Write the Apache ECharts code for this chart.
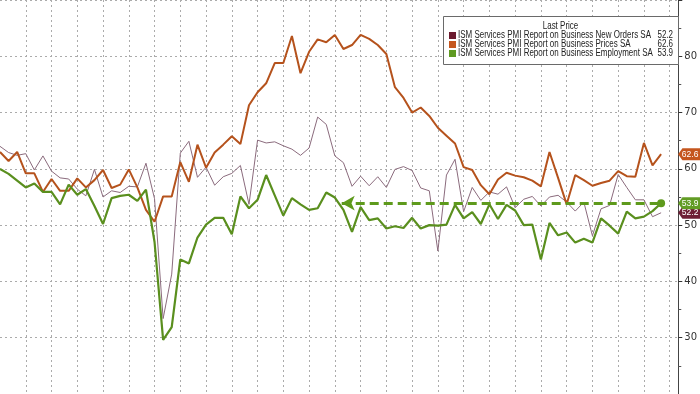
<!DOCTYPE html>
<html>
<head>
<meta charset="utf-8">
<script src="https://cdn.jsdelivr.net/npm/echarts@6/dist/echarts.min.js"></script>
<style>
html,body{margin:0;padding:0;background:#fff;}
#chart{width:700px;height:394px;}
</style>
</head>
<body>
<div id="chart"></div>
<script>
// Months: Sep 2018 ... Feb 2025 (monthly)
const months = ["2018-09","2018-10","2018-11","2018-12",
"2019-01","2019-02","2019-03","2019-04","2019-05","2019-06","2019-07","2019-08","2019-09","2019-10","2019-11","2019-12",
"2020-01","2020-02","2020-03","2020-04","2020-05","2020-06","2020-07","2020-08","2020-09","2020-10","2020-11","2020-12",
"2021-01","2021-02","2021-03","2021-04","2021-05","2021-06","2021-07","2021-08","2021-09","2021-10","2021-11","2021-12",
"2022-01","2022-02","2022-03","2022-04","2022-05","2022-06","2022-07","2022-08","2022-09","2022-10","2022-11","2022-12",
"2023-01","2023-02","2023-03","2023-04","2023-05","2023-06","2023-07","2023-08","2023-09","2023-10","2023-11","2023-12",
"2024-01","2024-02","2024-03","2024-04","2024-05","2024-06","2024-07","2024-08","2024-09","2024-10","2024-11","2024-12",
"2025-01","2025-02"];

const newOrders = [64.0,62.9,62.4,62.7,
59.8,62.3,59.6,58.4,58.2,56.4,55.2,59.9,55.0,56.1,55.8,56.9,
56.8,61.0,54.7,33.4,41.3,62.8,64.9,58.5,60.3,57.1,58.6,59.2,
60.6,53.7,65.1,64.6,64.8,64.1,63.5,62.4,63.7,69.2,67.9,62.3,
61.1,56.9,58.7,57.0,58.6,56.7,59.9,60.4,59.7,56.6,56.1,45.4,
58.9,61.7,52.4,56.7,54.4,55.9,55.5,56.8,53.1,54.6,55.1,53.4,
55.0,55.3,54.1,52.5,54.1,48.1,52.9,53.5,59.0,56.7,54.5,54.5,
51.5,52.2];

const prices = [63.0,61.4,63.0,59.2,
59.2,55.9,58.2,56.1,56.1,58.3,56.7,58.0,59.8,56.6,57.2,59.9,
56.7,52.7,50.6,55.1,55.1,61.2,57.7,64.3,60.2,62.9,64.3,65.8,
64.4,71.3,73.6,75.2,78.8,78.8,83.6,77.0,80.8,83.0,82.5,83.8,
81.3,82.0,83.8,83.1,82.0,80.4,74.5,72.6,70.0,70.9,69.4,67.3,
65.9,64.5,60.3,59.8,57.1,55.5,58.1,59.3,58.8,58.5,57.9,56.9,
63.0,58.4,53.7,58.9,58.0,57.0,57.5,57.9,59.6,58.7,58.6,64.6,
60.6,62.6];

const employment = [60.0,59.1,57.9,56.7,
57.4,55.9,55.9,53.7,57.2,55.4,56.4,53.4,50.2,54.8,55.2,55.4,
54.3,56.3,47.0,29.6,31.9,43.9,43.2,47.8,50.1,51.3,51.3,48.4,
55.1,53.0,54.5,58.9,55.3,51.7,54.8,53.7,52.7,53.0,55.8,54.9,
52.7,48.8,53.2,50.9,51.2,49.4,49.8,49.5,51.3,49.4,50.0,49.9,
50.1,53.6,51.2,52.3,50.2,53.7,51.1,53.6,52.6,50.0,50.1,43.9,
50.4,48.2,48.7,46.9,47.6,46.9,51.2,49.9,48.5,52.4,51.2,51.5,
52.5,53.9];

const seriesNames = [
  "ISM Services PMI Report on Business New Orders SA",
  "ISM Services PMI Report on Business Prices SA",
  "ISM Services PMI Report on Business Employment SA"
];
const legendTitle = "Last Price";
const yTicks = [30,40,50,60,70,80];
const arrowStartIndex = 39.8; // where the dashed arrow begins (month index)

const lineColors = ["#8b6b7d","#b5521c","#5a8f1e"];
const swatchColors = ["#6b1a2e","#c5561e","#5f9a22"];
const tagColors = ["#6e1e35","#c5561e","#629c25"];

const lastIdx = months.length - 1;
const allData = [newOrders, prices, employment];
const lastVals = allData.map(a => a[a.length - 1]);

function pairs(arr){ return arr.map((v,i)=>[i,v]); }

// text condensing factor for legend (reference uses a narrow font)
const FONT = "10px 'Liberation Sans'";
const mctx = document.createElement('canvas').getContext('2d');
mctx.font = FONT;
const sx = 193 / mctx.measureText(seriesNames[0]).width;

function tag(i){
  return {
    silent: true,
    data: [{
      coord: [lastIdx, lastVals[i]],
      symbol: 'path://M0,6 L5,0 L30,0 L30,12 L5,12 Z',
      symbolSize: [26, 12],
      symbolKeepAspect: false,
      symbolOffset: [30, 0],
      itemStyle: {color: tagColors[i]},
      label: {show: true, position: 'inside', offset: [-1, 0], color: '#fff', fontSize: 8.5,
        fontFamily: 'Liberation Sans', formatter: () => lastVals[i].toFixed(1)}
    }]
  };
}

// legend drawn as graphic elements
const legendLeft = 443, legendTop = 16, legendW = 235, legendH = 48;
const rowY = [35.5, 44.5, 53.5];
const legendEls = [
  {type: 'rect', left: legendLeft, top: legendTop, z: 50,
   shape: {x: 0, y: 0, width: legendW, height: legendH},
   style: {fill: '#fff', stroke: '#6a6a6a', lineWidth: 1}},
  {type: 'text', x: legendLeft + legendW / 2, y: 26, z: 51, scaleX: sx,
   style: {text: legendTitle, font: FONT, fill: '#222', align: 'center', verticalAlign: 'middle'}}
];
seriesNames.forEach((n, i) => {
  legendEls.push({type: 'rect', z: 51, shape: {x: 449, y: rowY[i] - 3.5, width: 7, height: 7},
    style: {fill: swatchColors[i]}});
  legendEls.push({type: 'text', x: 458, y: rowY[i], z: 51, scaleX: sx,
    style: {text: n, font: FONT, fill: '#222', align: 'left', verticalAlign: 'middle'}});
  legendEls.push({type: 'text', x: 673, y: rowY[i], z: 51, scaleX: sx,
    style: {text: lastVals[i].toFixed(1), font: FONT, fill: '#222', align: 'right', verticalAlign: 'middle'}});
});

const chart = echarts.init(document.getElementById('chart'), null, {renderer: 'canvas'});
const option = {
  animation: false,
  backgroundColor: '#fff',
  grid: {left: -5.7, right: 21, top: -12.6, bottom: -45.6, containLabel: false},
  graphic: {elements: legendEls},
  xAxis: {
    type: 'value', min: 0, max: months.length + 1, interval: 3,
    axisLine: {show: false}, axisTick: {show: false}, axisLabel: {show: false},
    splitLine: {show: true, showMinLine: false, showMaxLine: false,
      lineStyle: {color: '#ababab', width: 1, type: [2, 3]}}
  },
  yAxis: {
    type: 'value', position: 'right', min: 20, max: 90, interval: 10,
    axisLine: {show: true, onZero: false, lineStyle: {color: '#444', width: 1}},
    axisTick: {show: true, length: 4, lineStyle: {color: '#333'}},
    minorTick: {show: true, splitNumber: 2, length: 3, lineStyle: {color: '#555'}},
    axisLabel: {color: '#333', fontSize: 10, margin: 6, fontFamily: 'DejaVu Sans',
      formatter: v => yTicks.indexOf(v) >= 0 ? String(v) : ''},
    splitLine: {show: true, lineStyle: {color: '#ababab', width: 1, type: [2, 3]}}
  },
  series: [
    {
      name: seriesNames[0], type: 'line', data: pairs(newOrders), showSymbol: false, symbol: 'none',
      lineStyle: {color: lineColors[0], width: 1}, itemStyle: {color: swatchColors[0]}, z: 2,
      markPoint: tag(0)
    },
    {
      name: seriesNames[1], type: 'line', data: pairs(prices), showSymbol: false, symbol: 'none',
      lineStyle: {color: lineColors[1], width: 2}, itemStyle: {color: swatchColors[1]}, z: 3,
      markPoint: tag(1)
    },
    {
      name: seriesNames[2], type: 'line', data: pairs(employment), showSymbol: false, symbol: 'none',
      lineStyle: {color: lineColors[2], width: 2.2}, itemStyle: {color: swatchColors[2]}, z: 4,
      markPoint: tag(2),
      markLine: {
        silent: true, animation: false,
        lineStyle: {color: '#5e9a1c', width: 3, type: [9, 5]},
        label: {show: false},
        data: [[
          {coord: [arrowStartIndex, lastVals[2]], symbol: 'arrow', symbolSize: [11, 13]},
          {coord: [lastIdx, lastVals[2]], symbol: 'circle', symbolSize: 8}
        ]]
      }
    }
  ]
};
chart.setOption(option);
</script>
</body>
</html>
